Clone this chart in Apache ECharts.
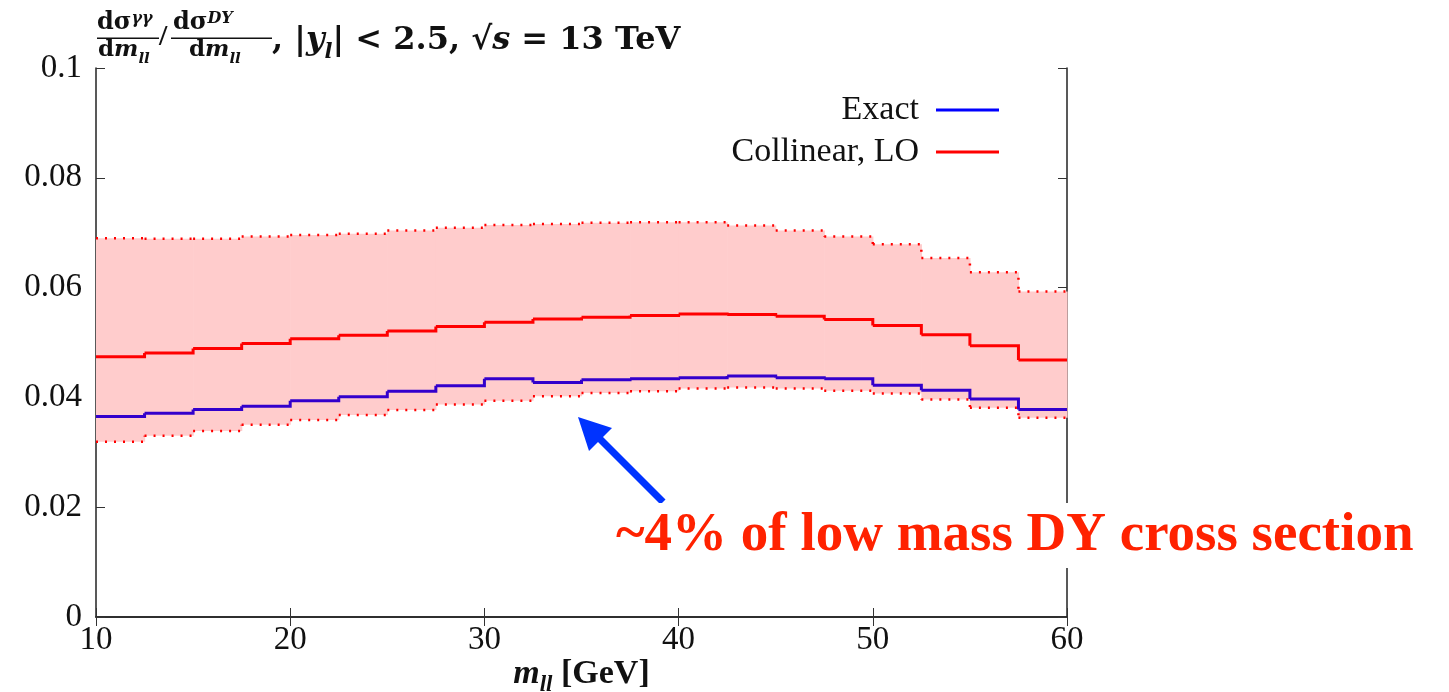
<!DOCTYPE html>
<html>
<head>
<meta charset="utf-8">
<script src="https://cdn.jsdelivr.net/npm/echarts@6/dist/echarts.min.js"></script>
<style>
  html, body { margin: 0; padding: 0; background: #fff; }
  #chart { width: 1449px; height: 692px; }
</style>
</head>
<body>
<div id="chart"></div>
<script>
  // bin edges of m_ll [GeV], 20 bins of 2.5 GeV
  const binEdges = [10, 12.5, 15, 17.5, 20, 22.5, 25, 27.5, 30, 32.5, 35, 37.5, 40, 42.5, 45, 47.5, 50, 52.5, 55, 57.5, 60];

  const exact = [0.0365, 0.0371, 0.0378, 0.0384, 0.0394, 0.0401, 0.0411, 0.0421, 0.0434, 0.0427,
                 0.0432, 0.0434, 0.0436, 0.0439, 0.0436, 0.0434, 0.0422, 0.0413, 0.0397, 0.0378];
  const collinearLO = [0.0474, 0.0481, 0.0489, 0.0498, 0.0507, 0.0513, 0.0521, 0.0529, 0.0537, 0.0543,
                       0.0546, 0.0549, 0.0552, 0.0551, 0.0548, 0.0542, 0.0531, 0.0514, 0.0494, 0.0468];
  const bandUpper = [0.0690, 0.0689, 0.0689, 0.0693, 0.0696, 0.0698, 0.0704, 0.0709, 0.0714, 0.0716,
                     0.0718, 0.0719, 0.0719, 0.0713, 0.0704, 0.0693, 0.0679, 0.0654, 0.0628, 0.0593];
  const bandLower = [0.0319, 0.0330, 0.0339, 0.0350, 0.0359, 0.0368, 0.0377, 0.0387, 0.0394, 0.0402,
                     0.0408, 0.0411, 0.0416, 0.0418, 0.0416, 0.0412, 0.0407, 0.0396, 0.0381, 0.0363];

  // one item per bin: [x0, x1, value, value of next bin]
  function toBins(vals) {
    return vals.map((v, i) => [binEdges[i], binEdges[i + 1], v, i + 1 < vals.length ? vals[i + 1] : v]);
  }
  const bandData = bandLower.map((v, i) => [binEdges[i], binEdges[i + 1], v, bandUpper[i]]);

  const serif = "'Liberation Serif', 'DejaVu Serif', serif";
  const tserif = "'DejaVu Serif', 'Liberation Serif', serif";

  // step histogram drawn bin by bin (horizontal + riser to next bin)
  function stepSeries(name, vals, color, width, dash) {
    return {
      name: name, type: 'custom',
      data: toBins(vals),
      itemStyle: { color: color },
      renderItem: function (params, api) {
        const a = api.coord([api.value(0), api.value(2)]);
        const b = api.coord([api.value(1), api.value(2)]);
        const c = api.coord([api.value(1), api.value(3)]);
        return {
          type: 'polyline',
          shape: { points: [a, b, c] },
          style: { fill: null, stroke: color, lineWidth: width, lineDash: dash || null, lineCap: 'butt', lineJoin: 'miter' }
        };
      }
    };
  }

  const myChart = echarts.init(document.getElementById('chart'));

  const axisCommon = {
    axisLine: { show: true, lineStyle: { color: '#222', width: 1.5 } },
    axisTick: { show: true, inside: true, length: 9, lineStyle: { color: '#333', width: 1 } },
    splitLine: { show: false }
  };

  myChart.setOption({
    animation: false,
    backgroundColor: '#fff',
    grid: { left: 96, right: 382, top: 68, bottom: 75, outerBoundsMode: 'none', containLabel: false },
    legend: {
      data: [
        { name: 'Exact', itemStyle: { color: '#0000ff' } },
        { name: 'Collinear, LO', itemStyle: { color: '#ff0000' } }
      ],
      orient: 'vertical',
      align: 'right',
      right: 445,
      top: 88,
      icon: 'rect',
      itemWidth: 63,
      itemHeight: 3,
      itemGap: 8,
      textStyle: { fontFamily: serif, fontSize: 34, color: '#111', lineHeight: 34, padding: [0, 12, 0, 0] }
    },
    xAxis: [
      Object.assign({
        type: 'value', min: 10, max: 60, interval: 10, position: 'bottom',
        axisLabel: { fontFamily: serif, fontSize: 33, color: '#111', margin: 7 },
        name: '{m|m}{s|ll}{t| [GeV]}',
        nameLocation: 'middle',
        nameGap: 40,
        nameMoveOverlap: false,
        nameTextStyle: {
          rich: {
            m: { fontFamily: serif, fontSize: 34, fontWeight: 'bold', fontStyle: 'italic', color: '#111' },
            s: { fontFamily: serif, fontSize: 23, fontWeight: 'bold', fontStyle: 'italic', color: '#111', verticalAlign: 'bottom', padding: [0, 0, -6, 0] },
            t: { fontFamily: serif, fontSize: 34, fontWeight: 'bold', color: '#111' }
          }
        }
      }, axisCommon),
      Object.assign({
        type: 'value', min: 10, max: 60, interval: 10, position: 'top',
        axisLabel: { show: false }
      }, axisCommon)
    ],
    yAxis: [
      Object.assign({
        type: 'value', min: 0, max: 0.1, interval: 0.02, position: 'left',
        axisLabel: { fontFamily: serif, fontSize: 33, color: '#111', margin: 14 }
      }, axisCommon),
      Object.assign({
        type: 'value', min: 0, max: 0.1, interval: 0.02, position: 'right',
        axisLabel: { show: false }
      }, axisCommon)
    ],
    series: [
      {
        name: 'band', type: 'custom',
        data: bandData,
        renderItem: function (params, api) {
          const p0 = api.coord([api.value(0), api.value(3)]);
          const p1 = api.coord([api.value(1), api.value(2)]);
          return {
            type: 'rect',
            shape: { x: p0[0], y: p0[1], width: p1[0] - p0[0] + 0.6, height: p1[1] - p0[1] },
            style: { fill: '#ffcccc' }
          };
        }
      },
      stepSeries('Exact', exact, '#3300cc', 3),
      stepSeries('bandLower', bandLower, '#ff0000', 2.5, [2, 7]),
      stepSeries('bandUpper', bandUpper, '#ff0000', 2.5, [2, 7]),
      stepSeries('Collinear, LO', collinearLO, '#ff0000', 3)
    ],
    graphic: [
      // title: fractions
      {
        type: 'text', left: 97, top: 11, z: 10,
        style: {
          text: '{a|dσ}{s|γγ}',
          rich: {
            a: { fontFamily: tserif, fontSize: 24, fontWeight: 'bold', fill: '#111' },
            s: { fontFamily: tserif, fontSize: 16, fontWeight: 'bold', fontStyle: 'italic', fill: '#111', verticalAlign: 'top' }
          }
        }
      },
      { type: 'rect', shape: { x: 97, y: 37.5, width: 62, height: 1.5 }, style: { fill: '#111' }, z: 10 },
      {
        type: 'text', left: 98, top: 39, z: 10,
        style: {
          text: '{a|d}{i|m}{s|ll}',
          rich: {
            a: { fontFamily: tserif, fontSize: 23, fontWeight: 'bold', fill: '#111' },
            i: { fontFamily: tserif, fontSize: 23, fontWeight: 'bold', fontStyle: 'italic', fill: '#111' },
            s: { fontFamily: tserif, fontSize: 15, fontWeight: 'bold', fontStyle: 'italic', fill: '#111', verticalAlign: 'bottom', padding: [0, 0, -5, 0] }
          }
        }
      },
      {
        type: 'text', left: 159, top: 22, z: 10,
        style: { text: '/', font: "bold 30px " + serif, fill: '#111' }
      },
      {
        type: 'text', left: 173, top: 11, z: 10,
        style: {
          text: '{a|dσ}{s|DY}',
          rich: {
            a: { fontFamily: tserif, fontSize: 24, fontWeight: 'bold', fill: '#111' },
            s: { fontFamily: tserif, fontSize: 16, fontWeight: 'bold', fontStyle: 'italic', fill: '#111', verticalAlign: 'top' }
          }
        }
      },
      { type: 'rect', shape: { x: 171, y: 37.5, width: 101, height: 1.5 }, style: { fill: '#111' }, z: 10 },
      {
        type: 'text', left: 189, top: 39, z: 10,
        style: {
          text: '{a|d}{i|m}{s|ll}',
          rich: {
            a: { fontFamily: tserif, fontSize: 23, fontWeight: 'bold', fill: '#111' },
            i: { fontFamily: tserif, fontSize: 23, fontWeight: 'bold', fontStyle: 'italic', fill: '#111' },
            s: { fontFamily: tserif, fontSize: 15, fontWeight: 'bold', fontStyle: 'italic', fill: '#111', verticalAlign: 'bottom', padding: [0, 0, -5, 0] }
          }
        }
      },
      {
        type: 'text', left: 272, top: 25, z: 10,
        style: {
          text: '{t|, |}{i|y}{s|l}{t|| < 2.5, √}{i|s}{t| = 13 TeV}',
          rich: {
            t: { fontFamily: tserif, fontSize: 32, fontWeight: 'bold', fill: '#111' },
            i: { fontFamily: tserif, fontSize: 32, fontWeight: 'bold', fontStyle: 'italic', fill: '#111' },
            s: { fontFamily: tserif, fontSize: 21, fontWeight: 'bold', fontStyle: 'italic', fill: '#111', verticalAlign: 'bottom', padding: [0, 0, -6, 0] }
          }
        }
      },
      // annotation arrow
      {
        type: 'line', z: 20,
        shape: { x1: 663, y1: 502, x2: 598, y2: 437 },
        style: { stroke: '#0033ff', lineWidth: 7 }
      },
      {
        type: 'polygon', z: 20,
        shape: { points: [[578, 417], [612, 428], [589, 451]] },
        style: { fill: '#0033ff' }
      },
      // annotation text
      {
        type: 'text', left: 610, top: 503, z: 20,
        style: {
          text: '~4% of low mass DY cross section',
          font: "bold 55px " + serif,
          fill: '#ff2200',
          backgroundColor: '#fff',
          padding: [4, 6, 4, 6],
          lineHeight: 57
        }
      }
    ]
  });
</script>
</body>
</html>
